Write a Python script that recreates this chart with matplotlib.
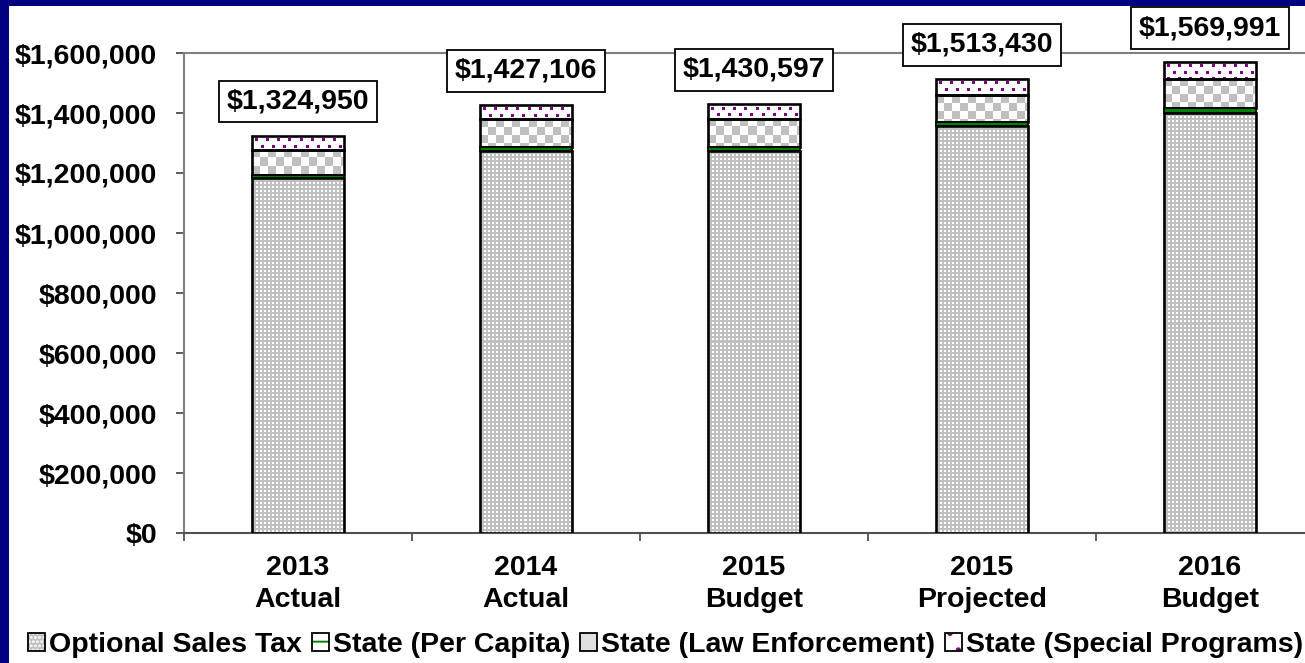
import numpy as np
import matplotlib
matplotlib.use('Agg')
import matplotlib.pyplot as plt
from matplotlib.patches import Patch, Rectangle
from matplotlib.legend_handler import HandlerTuple

# ---------------- data ----------------
categories = ['2013\nActual', '2014\nActual', '2015\nBudget', '2015\nProjected', '2016\nBudget']
series_names = ['Optional Sales Tax', 'State (Per Capita)',
                'State (Law Enforcement)', 'State (Special Programs)']
sales_tax = [1183000, 1274000, 1274000, 1356000, 1401000]
per_capita = [11000, 12000, 12000, 14000, 15000]
law_enforcement = [84000, 93000, 95000, 90000, 99000]
special_programs = [46950, 48106, 49597, 53430, 54991]
totals = [1324950, 1427106, 1430597, 1513430, 1569991]
yticks = [0, 200000, 400000, 600000, 800000, 1000000, 1200000, 1400000, 1600000]

# ---------------- style ----------------
plt.rcParams['font.family'] = ['Liberation Sans', 'DejaVu Sans']
plt.rcParams['font.weight'] = 'bold'
plt.rcParams['hatch.linewidth'] = 1.4
FS = 20.5
NAVY = '#000080'
GRAY = '#c0c0c0'
GREEN = '#008000'
PURPLE = '#800080'

W, H = 1305, 663
fig = plt.figure(figsize=(W / 100, H / 100), dpi=100)
fig.patch.set_facecolor('white')
ax = fig.add_axes([184 / W, (H - 533) / H, 1140 / W, 480 / H])
ax.set_xlim(-0.5, 4.5)
ax.set_ylim(0, 1600000)

x = np.arange(len(categories))
bw = 0.40
edge_lw = 1.9

b0 = np.zeros(len(x))
b1 = b0 + np.array(sales_tax)
b2 = b1 + np.array(per_capita)
b3 = b2 + np.array(law_enforcement)


def rgb(hexc):
    hexc = hexc.lstrip('#')
    return np.array([int(hexc[i:i + 2], 16) / 255 for i in (0, 2, 4)])


def pattern_fill(bars, mask_func, fg, bg):
    """Fill each bar rectangle with a pixel pattern (image clipped to the bar)."""
    fgc, bgc = rgb(fg), rgb(bg)
    for rect in bars:
        x0, y0 = rect.get_x(), rect.get_y()
        x1, y1 = x0 + rect.get_width(), y0 + rect.get_height()
        (px0, py0), (px1, py1) = ax.transData.transform([(x0, y0), (x1, y1)])
        nx = max(int(round(px1 - px0)), 1)
        ny = max(int(round(py1 - py0)), 1)
        jj, ii = np.meshgrid(np.arange(nx), np.arange(ny))  # ii from top
        m = mask_func(ii, jj)
        img = np.where(m[..., None], fgc, bgc)
        im = ax.imshow(img, extent=(x0, x1, y0, y1), origin='upper', aspect='auto',
                       interpolation='nearest', zorder=3)
        im.set_clip_path(rect)


def checker(ii, jj):
    return ((jj // 8 + ii // 8) % 2) == 0


def fine_dots(ii, jj):
    # white 2x2 squares on 4 px pitch
    return ~(((ii % 4) < 2) & ((jj % 4) < 2))


def purple_dots(ii, jj):
    row = (ii - 3) // 6
    on_row = ((ii - 3) % 6) < 3
    shift = np.where(row % 2 == 0, 3, 9)
    on_col = ((jj - shift) % 11) < 3
    return on_row & on_col & (ii >= 3)


# sales tax: gray with fine white dots
st = ax.bar(x, sales_tax, bw, bottom=b0, facecolor=GRAY, linewidth=0, zorder=2)
pattern_fill(st, fine_dots, GRAY, '#ffffff')
ax.bar(x, sales_tax, bw, bottom=b0, facecolor='none', edgecolor='black',
       linewidth=edge_lw, zorder=4)
# per capita: green band
ax.bar(x, per_capita, bw, bottom=b1, facecolor=GREEN, edgecolor='black',
       linewidth=1.3, zorder=5)
# law enforcement: checkerboard
le = ax.bar(x, law_enforcement, bw, bottom=b2, facecolor='white', linewidth=0, zorder=2)
pattern_fill(le, checker, GRAY, '#ffffff')
ax.bar(x, law_enforcement, bw, bottom=b2, facecolor='none', edgecolor='black',
       linewidth=edge_lw, zorder=4)
# special programs: white with purple dots
sp = ax.bar(x, special_programs, bw, bottom=b3, facecolor='white', linewidth=0, zorder=2)
pattern_fill(sp, purple_dots, PURPLE, '#ffffff')
ax.bar(x, special_programs, bw, bottom=b3, facecolor='none', edgecolor='black',
       linewidth=edge_lw, zorder=4)
ax.set_xlim(-0.5, 4.5)
ax.set_ylim(0, 1600000)

# total labels
for xi, t in zip(x, totals):
    ax.annotate(f'${t:,}', xy=(xi, t), xytext=(0, 21), textcoords='offset pixels',
                ha='center', va='bottom', fontsize=FS, fontweight='bold',
                bbox=dict(boxstyle='square,pad=0.27', fc='white', ec='black', lw=1.3),
                annotation_clip=False, zorder=6)

# axes styling
for s in ['left', 'top', 'bottom']:
    ax.spines[s].set_color('#808080')
    ax.spines[s].set_linewidth(1.5)
ax.spines['bottom'].set_color('#505050')
ax.spines['right'].set_visible(False)

ax.set_yticks(yticks)
ax.set_yticklabels([f'${v:,}' for v in yticks], fontsize=FS, fontweight='bold')
ax.tick_params(axis='y', length=6, width=1.2, color='#404040', pad=13.5)

ax.set_xticks(np.arange(-0.5, 5.0, 1.0))
ax.set_xticklabels([])
ax.set_xticks(x, minor=True)
ax.set_xticklabels(categories, minor=True, fontsize=FS, fontweight='bold')
for lbl in ax.get_xticklabels(minor=True):
    lbl.set_linespacing(1.3)
ax.tick_params(axis='x', which='major', length=6, width=1.2, color='#404040')
ax.tick_params(axis='x', which='minor', length=0, pad=16)

# legend
def outline():
    return Patch(facecolor='none', edgecolor='black', linewidth=1.3)

h_st = Patch(facecolor=GRAY, edgecolor='white', hatch='....', linewidth=0)
h_pc = Patch(facecolor='white', edgecolor=GREEN, hatch='-', linewidth=0)
h_le = Patch(facecolor='#e0e0e0', edgecolor='none')
h_sp = Patch(facecolor='white', edgecolor=PURPLE, hatch='.', linewidth=0)
handles = [(h_st, outline()), (h_pc, outline()), (h_le, outline()), (h_sp, outline())]
leg = fig.legend(handles, series_names, handler_map={tuple: HandlerTuple(ndivide=1, pad=0)},
                 loc='center left', bbox_to_anchor=(28 / W, 18 / H), bbox_transform=fig.transFigure,
                 ncol=4, frameon=False, prop={'weight': 'bold', 'size': FS},
                 handlelength=0.6, handleheight=0.6, handletextpad=0.15, columnspacing=0.33,
                 borderpad=0, borderaxespad=0)

# navy frame (left and top edges)
fig.patches.append(Rectangle((0, 0), 9 / W, 1, transform=fig.transFigure,
                             facecolor=NAVY, edgecolor='none', zorder=0))
fig.patches.append(Rectangle((0, 1 - 6 / H), 1, 6 / H, transform=fig.transFigure,
                             facecolor=NAVY, edgecolor='none', zorder=0))

fig.savefig('out.png', dpi=100)
